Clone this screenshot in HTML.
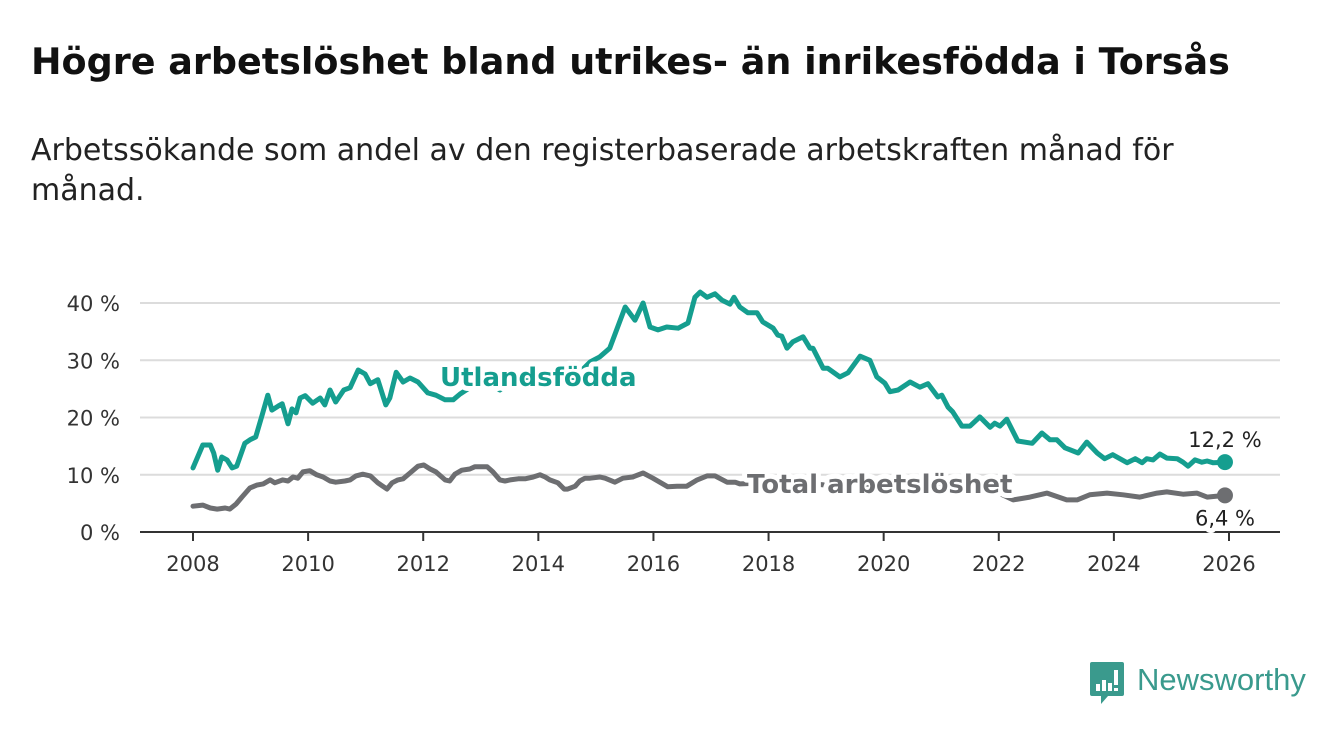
<!DOCTYPE html>
<html><head><meta charset="utf-8">
<style>
body{margin:0;width:1340px;height:734px;background:#fff;font-family:"DejaVu Sans","Liberation Sans",sans-serif;overflow:hidden;position:relative}
h1{position:absolute;left:31px;top:40px;margin:0;font-size:36.5px;font-weight:bold;color:#111;white-space:nowrap}
.sub{position:absolute;left:31px;top:131px;margin:0;font-size:30px;line-height:40px;color:#222;width:1280px}
svg{position:absolute;left:0;top:0}
</style></head><body>
<h1>Högre arbetslöshet bland utrikes- än inrikesfödda i Torsås</h1>
<p class="sub">Arbetssökande som andel av den registerbaserade arbetskraften månad för<br>månad.</p>
<svg id="chart" width="1340" height="734"></svg>
<script>
const yTicks=[0,10,20,30,40];
const yTickLabels=["0 %","10 %","20 %","30 %","40 %"];
const xTicks=[2008,2010,2012,2014,2016,2018,2020,2022,2024,2026];
const foreignDates=[2008.00,2008.17,2008.30,2008.36,2008.43,2008.50,2008.59,2008.68,2008.76,2008.90,2008.99,2009.09,2009.20,2009.30,2009.37,2009.48,2009.55,2009.65,2009.72,2009.79,2009.86,2009.95,2010.08,2010.21,2010.29,2010.38,2010.48,2010.62,2010.73,2010.87,2010.99,2011.08,2011.21,2011.35,2011.42,2011.53,2011.65,2011.77,2011.91,2012.08,2012.22,2012.38,2012.52,2012.64,2012.81,2012.99,2013.16,2013.33,2013.51,2013.68,2013.85,2014.03,2014.20,2014.38,2014.55,2014.72,2014.90,2015.07,2015.24,2015.51,2015.68,2015.82,2015.94,2016.08,2016.23,2016.43,2016.60,2016.72,2016.81,2016.93,2017.07,2017.19,2017.33,2017.40,2017.50,2017.64,2017.80,2017.90,2018.08,2018.16,2018.23,2018.32,2018.42,2018.60,2018.72,2018.77,2018.95,2019.03,2019.24,2019.38,2019.59,2019.76,2019.88,2020.02,2020.11,2020.25,2020.46,2020.63,2020.77,2020.94,2021.01,2021.12,2021.20,2021.36,2021.50,2021.67,2021.85,2021.93,2022.02,2022.14,2022.33,2022.58,2022.75,2022.89,2023.01,2023.15,2023.38,2023.53,2023.71,2023.84,2023.98,2024.23,2024.37,2024.49,2024.57,2024.68,2024.80,2024.92,2025.10,2025.20,2025.29,2025.41,2025.53,2025.62,2025.72,2025.93];
const foreignValues=[11.2,15.2,15.2,13.8,10.8,13.1,12.6,11.2,11.5,15.5,16.1,16.6,20.4,23.9,21.3,22.0,22.4,18.9,21.5,20.8,23.4,23.8,22.5,23.4,22.2,24.8,22.7,24.8,25.2,28.3,27.6,25.9,26.6,22.2,23.4,27.9,26.2,26.9,26.2,24.3,23.9,23.1,23.1,24.1,25.2,25.7,26.0,24.8,26.2,26.6,26.9,27.2,26.6,25.2,26.6,27.9,29.7,30.6,32.1,39.3,37.0,40.0,35.8,35.3,35.8,35.6,36.5,41.0,41.9,41.0,41.6,40.5,39.8,41.0,39.3,38.3,38.3,36.7,35.6,34.4,34.2,32.1,33.2,34.1,32.1,32.1,28.6,28.6,27.1,27.8,30.7,30.0,27.1,26.0,24.5,24.8,26.2,25.3,25.9,23.6,23.9,21.8,21.0,18.5,18.5,20.1,18.3,19.0,18.5,19.7,15.9,15.5,17.3,16.1,16.1,14.7,13.8,15.7,13.8,12.8,13.5,12.1,12.8,12.1,12.8,12.6,13.6,12.9,12.8,12.2,11.5,12.6,12.2,12.4,12.1,12.2];
const totalDates=[2008.00,2008.17,2008.30,2008.42,2008.56,2008.64,2008.75,2008.85,2008.99,2009.11,2009.22,2009.34,2009.42,2009.56,2009.65,2009.74,2009.82,2009.91,2010.03,2010.15,2010.26,2010.38,2010.48,2010.64,2010.73,2010.83,2010.95,2011.08,2011.21,2011.37,2011.46,2011.56,2011.65,2011.77,2011.91,2012.01,2012.12,2012.22,2012.38,2012.46,2012.55,2012.67,2012.81,2012.90,2013.11,2013.21,2013.33,2013.42,2013.51,2013.65,2013.77,2013.91,2014.03,2014.12,2014.20,2014.34,2014.45,2014.51,2014.64,2014.72,2014.81,2014.90,2015.07,2015.16,2015.33,2015.47,2015.64,2015.82,2015.99,2016.25,2016.41,2016.58,2016.76,2016.93,2017.07,2017.28,2017.42,2017.50,2017.80,2018.20,2018.60,2019.00,2019.50,2020.00,2020.50,2021.00,2021.50,2022.00,2022.25,2022.54,2022.84,2023.18,2023.36,2023.58,2023.88,2024.16,2024.45,2024.75,2024.92,2025.20,2025.44,2025.62,2025.93];
const totalValues=[4.5,4.7,4.2,4.0,4.2,4.0,4.9,6.1,7.7,8.2,8.4,9.1,8.6,9.1,8.9,9.6,9.4,10.5,10.7,10.0,9.6,8.9,8.7,8.9,9.1,9.8,10.1,9.8,8.6,7.5,8.6,9.1,9.3,10.3,11.5,11.7,11.0,10.5,9.1,8.9,10.1,10.8,11.0,11.4,11.4,10.5,9.1,8.9,9.1,9.3,9.3,9.6,10.0,9.6,9.1,8.6,7.5,7.5,8.0,8.9,9.4,9.4,9.6,9.4,8.7,9.4,9.6,10.3,9.4,7.9,8.0,8.0,9.1,9.8,9.8,8.7,8.7,8.4,8.5,8.9,8.6,8.2,8.0,8.8,8.9,8.6,7.6,6.8,5.6,6.1,6.8,5.6,5.6,6.5,6.8,6.5,6.1,6.8,7.0,6.6,6.8,6.1,6.4];

const NS="http://www.w3.org/2000/svg";
const svg=document.getElementById('chart');
const X=y=>193+(y-2008)*(1229-193)/18;
const Y=v=>532-v*(532-303)/40;
function mk(t,a,p){const e=document.createElementNS(NS,t);for(const k in a)e.setAttribute(k,a[k]);(p||svg).appendChild(e);return e;}

yTicks.forEach((v,i)=>{
  if(v>0){const g=mk('line',{x1:140,x2:1280,y1:Y(v),y2:Y(v),stroke:'#dcdcdc','stroke-width':2});
  
  }
  const t=mk('text',{x:120,y:Y(v)+8,'text-anchor':'end','font-size':21,fill:'#333'});
  t.textContent=yTickLabels[i];
  
  
});
const ax=mk('line',{x1:140,x2:1280,y1:532,y2:532,stroke:'#333','stroke-width':2});


xTicks.forEach(yr=>{
  const tk=mk('line',{x1:X(yr),x2:X(yr),y1:532,y2:541,stroke:'#333','stroke-width':2});
  
  
  const t=mk('text',{x:X(yr),y:571,'text-anchor':'middle','font-size':21,fill:'#333'});
  t.textContent=yr;
  
  
});
function line(d,v,col,name){
  const pts=d.map((x,i)=>X(x).toFixed(1)+','+Y(v[i]).toFixed(1)).join(' ');
  const p=mk('polyline',{points:pts,fill:'none',stroke:col,'stroke-width':5,'stroke-linejoin':'round','stroke-linecap':'round'});
  
  
  const n=d.length-1;
  const c=mk('circle',{cx:X(d[n]),cy:Y(v[n]),r:8,fill:col});
  
  
}
line(totalDates,totalValues,'#6d6e71','total-line');
line(foreignDates,foreignValues,'#159e8f','foreign-born-line');
function label(x,y,txt,col,name,anchor,size,weight,halo){
  const t=mk('text',{x:x,y:y,'text-anchor':anchor,'font-size':size,'font-weight':weight,fill:col});
  if(halo){t.setAttribute('stroke','#fff');t.setAttribute('stroke-width',10);t.setAttribute('paint-order','stroke');t.setAttribute('stroke-linejoin','round');}
  t.textContent=txt;
  
  
}
label(440,386,'Utlandsfödda','#159e8f','series-label-foreign','start',26,'bold',true);
label(747,493,'Total arbetslöshet','#6d6e71','series-label-total','start',26,'bold',true);
const nf=foreignValues.length-1, nt=totalValues.length-1;
label(X(foreignDates[nf]),Y(foreignValues[nf])-15,foreignValues[nf].toFixed(1).replace('.',',')+' %','#222','value-label-foreign','middle',21,'normal',true);
label(X(totalDates[nt]),Y(totalValues[nt])+30,totalValues[nt].toFixed(1).replace('.',',')+' %','#222','value-label-total','middle',21,'normal',true);

// logo
const lg=mk('g',{});


mk('path',{d:'M1092 662 h30 a2 2 0 0 1 2 2 v30 a2 2 0 0 1 -2 2 h-14 l-7 8 v-8 h-9 a2 2 0 0 1 -2 -2 v-30 a2 2 0 0 1 2 -2z',fill:'#3a9a8d'},lg);
mk('rect',{x:1096,y:684,width:4,height:7,fill:'#fff'},lg);
mk('rect',{x:1102,y:680,width:4,height:11,fill:'#fff'},lg);
mk('rect',{x:1108,y:683,width:4,height:8,fill:'#fff'},lg);
mk('rect',{x:1114,y:670,width:4,height:15,fill:'#fff'},lg);
mk('rect',{x:1114,y:688,width:4,height:3,fill:'#fff'},lg);
const lt=mk('text',{x:1137,y:690,'font-size':31,fill:'#3a9a8d','font-family':'Liberation Sans, sans-serif'},lg);
lt.textContent='Newsworthy';
</script>
</body></html>
